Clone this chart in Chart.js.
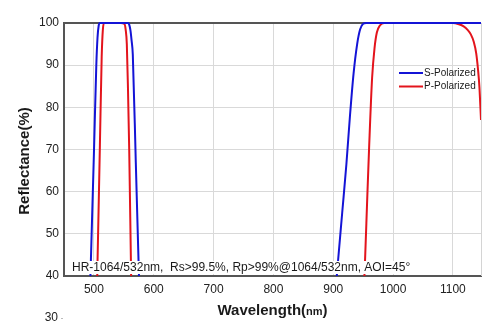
<!DOCTYPE html>
<html>
<head>
<meta charset="utf-8">
<script src="https://cdn.jsdelivr.net/npm/chart.js@4.4.1/dist/chart.umd.min.js"></script>
<style>
html, body { margin: 0; padding: 0; background: #fff; }
#wrap { width: 500px; height: 334px; }
</style>
</head>
<body>
<div id="wrap"><canvas id="reflChart"></canvas></div>
<script>
// S-polarized reflectance
const sWave = [450, 480, 488, 492, 495, 500, 504, 506, 508, 510, 530, 557, 559, 561, 563, 565, 570, 574.5, 577, 582, 600, 700, 850, 895, 903, 908, 915, 922, 928, 934, 940, 945, 950, 955, 1000, 1100, 1147];
const sRefl = [0, 2, 12, 30, 44, 69, 90, 96.5, 99.4, 100, 100, 100, 99.6, 98.3, 95.8, 92.5, 67, 44, 32, 12, 1, 0, 0, 22, 35, 43.5, 55, 66.5, 78, 88, 95, 98.5, 99.8, 100, 100, 100, 100];

// P-polarized reflectance
const pWave = [450, 495, 500, 503, 506, 510, 513, 515, 517, 520, 545, 551, 553, 555, 557, 559, 562, 564, 570, 600, 800, 940, 945, 950, 953, 957, 960, 965, 969, 973, 978, 985, 1050, 1100, 1110, 1118, 1125, 1130, 1135, 1139, 1142, 1144.5, 1147];
const pRefl = [0, 2, 5, 22, 43, 71, 92, 98.5, 100, 100, 100, 99.8, 98.5, 95, 84, 70, 42, 25, 5, 0, 0, 5, 15, 33, 43, 59, 70.5, 87, 94, 97.8, 99.4, 100, 100, 100, 99.7, 99.2, 98.3, 97.3, 95.5, 92.8, 89, 84.5, 77];

const seriesNames = ['S-Polarized', 'P-Polarized'];
const seriesColors = ['#1414d6', '#e3141c'];
const xTicks = [500, 600, 700, 800, 900, 1000, 1100];
const yTicks = [40, 50, 60, 70, 80, 90, 100];
const extraYLabel = 30;
const noteText = 'HR-1064/532nm,  Rs>99.5%, Rp>99%@1064/532nm, AOI=45°';

const toPoints = (xs, ys) => xs.map((x, i) => ({ x: x, y: ys[i] }));

const FONT = '"Liberation Sans", Arial, sans-serif';

const decorPlugin = {
   id: 'decor',
   beforeDatasetsDraw(chart) {
      const { ctx, chartArea } = chart;
      ctx.save();
      ctx.strokeStyle = '#d4d4d4';
      ctx.lineWidth = 1;
      ctx.beginPath();
      ctx.moveTo(chartArea.right + 0.5, chartArea.top);
      ctx.lineTo(chartArea.right + 0.5, chartArea.bottom);
      ctx.stroke();
      ctx.restore();
   },
   afterDatasetsDraw(chart) {
      const { ctx, chartArea, scales } = chart;
      ctx.save();

      // note box over the bottom of the plot
      ctx.font = '12px ' + FONT;
      const noteW = ctx.measureText(noteText).width;
      ctx.fillStyle = '#fff';
      ctx.fillRect(chartArea.left + 6, 261, noteW + 4, 13);
      ctx.fillStyle = '#1a1a1a';
      ctx.textBaseline = 'middle';
      ctx.textAlign = 'left';
      ctx.fillText(noteText, chartArea.left + 8, 267.5);

      // legend
      ctx.font = '10px ' + FONT;
      seriesNames.forEach((name, i) => {
         const y = 73 + i * 13.5;
         ctx.strokeStyle = seriesColors[i];
         ctx.lineWidth = 2;
         ctx.beginPath();
         ctx.moveTo(399, y);
         ctx.lineTo(423, y);
         ctx.stroke();
         ctx.fillStyle = '#1a1a1a';
         ctx.fillText(name, 424, y);
      });

      // stray "30" label below the axis
      const y30 = scales.y.getPixelForValue(extraYLabel);
      ctx.font = '12px ' + FONT;
      ctx.textAlign = 'right';
      ctx.fillStyle = '#222';
      ctx.fillText(String(extraYLabel), 58, y30);
      ctx.fillStyle = '#bbb';
      ctx.fillRect(61, Math.round(y30), 2, 1);

      // y title
      ctx.save();
      ctx.translate(24.5, 161);
      ctx.rotate(-Math.PI / 2);
      ctx.textAlign = 'center';
      ctx.textBaseline = 'middle';
      ctx.fillStyle = '#1a1a1a';
      ctx.font = 'bold 15px ' + FONT;
      ctx.fillText('Reflectance(%)', 0, 0);
      ctx.restore();

      // x title with smaller "nm"
      const parts = [['Wavelength(', 'bold 15px ' + FONT], ['nm', 'bold 11px ' + FONT], [')', 'bold 15px ' + FONT]];
      let total = 0;
      parts.forEach(p => { ctx.font = p[1]; total += ctx.measureText(p[0]).width; });
      let x = (chartArea.left + chartArea.right) / 2 - total / 2;
      ctx.textAlign = 'left';
      ctx.textBaseline = 'alphabetic';
      ctx.fillStyle = '#1a1a1a';
      parts.forEach(p => {
         ctx.font = p[1];
         ctx.fillText(p[0], x, 315);
         x += ctx.measureText(p[0]).width;
      });

      ctx.restore();
   }
};

new Chart(document.getElementById('reflChart'), {
   type: 'line',

   data: {
      datasets: [
         {
            label: seriesNames[0],
            data: toPoints(sWave, sRefl),
            borderColor: seriesColors[0],
            borderWidth: 2,
            pointRadius: 0,
            cubicInterpolationMode: 'monotone',
            clip: { left: 0, top: 3, right: 0, bottom: 0 }
         },
         {
            label: seriesNames[1],
            data: toPoints(pWave, pRefl),
            borderColor: seriesColors[1],
            borderWidth: 2,
            pointRadius: 0,
            cubicInterpolationMode: 'monotone',
            clip: { left: 0, top: 3, right: 0, bottom: 0 }
         }
      ]
   },

   options: {
      responsive: true,
      maintainAspectRatio: false,
      animation: false,
      layout: {
         padding: { left: 0, top: 23, right: 19, bottom: 0 }
      },
      plugins: {
         legend: { display: false },
         tooltip: { enabled: false }
      },
      scales: {
         x: {
            type: 'linear',
            min: 450,
            max: 1147,
            afterBuildTicks: s => { s.ticks = xTicks.map(v => ({ value: v })); },
            afterFit: s => { s.height = 58; },
            grid: {
               color: '#d9d9d9',
               drawTicks: false
            },
            border: { color: '#555', width: 2 },
            ticks: {
               padding: 6,
               color: '#222',
               font: { family: FONT, size: 12 },
               callback: v => String(v)
            }
         },
         y: {
            min: 40,
            max: 100,
            afterBuildTicks: s => { s.ticks = yTicks.map(v => ({ value: v })); },
            afterFit: s => { s.width = 64; },
            grid: {
               color: c => c.tick && c.tick.value === 100 ? '#555' : '#d9d9d9',
               lineWidth: c => c.tick && c.tick.value === 100 ? 2 : 1,
               drawTicks: false
            },
            border: { color: '#555', width: 2 },
            ticks: {
               padding: 5,
               color: '#222',
               font: { family: FONT, size: 12 },
               callback: v => String(v)
            }
         }
      }
   },

   plugins: [decorPlugin]
});
</script>
</body>
</html>
